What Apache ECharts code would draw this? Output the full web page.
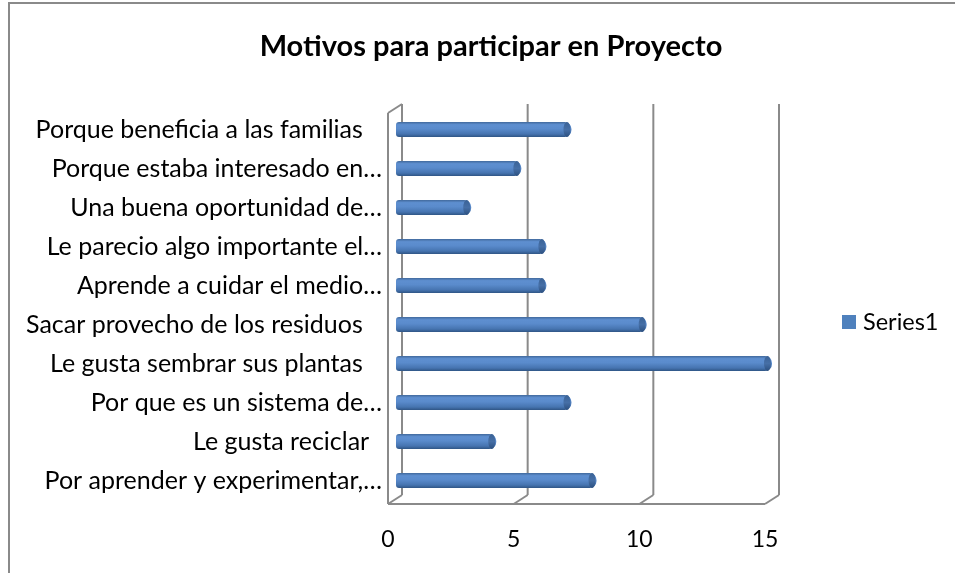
<!DOCTYPE html>
<html>
<head>
<meta charset="utf-8">
<script src="https://cdn.jsdelivr.net/npm/echarts@6/dist/echarts.min.js"></script>
<style>
html, body { margin: 0; padding: 0; background: #fff; }
#chart { width: 955px; height: 573px; }
</style>
</head>
<body>
<div id="chart"></div>
<script>
// motivos, de arriba hacia abajo
var motivos = [
    'Porque beneficia a las familias   ',
    'Porque estaba interesado en…',
    'Una buena oportunidad de…',
    'Le parecio algo importante el…',
    'Aprende a cuidar el medio…',
    'Sacar provecho de los residuos   ',
    'Le gusta sembrar sus plantas   ',
    'Por que es un sistema de…',
    'Le gusta reciclar  ',
    'Por aprender y experimentar,…'
];
var series1 = [7, 5, 3, 6, 6, 10, 15, 7, 4, 8];
var ejeTicks = [0, 5, 10, 15];

var FONT = 'Lato, "Liberation Sans", sans-serif';
var GRIS = '#8a8a8a';
// profundidad del marco 3D (fondo respecto al frente)
var DX = 14, DY = -9;

var chart = echarts.init(document.getElementById('chart'));

function linea(x1, y1, x2, y2) {
    return {
        type: 'line',
        shape: { x1: x1, y1: y1, x2: x2, y2: y2 },
        style: { stroke: GRIS, lineWidth: 2 }
    };
}

// paredes y suelo del grafico 3D
function marco(params, api) {
    var v = api.value(0);
    var bot = api.coord([v, 0]);
    var top = api.coord([v, 1]);
    var kids = [
        linea(bot[0] + DX, top[1] + DY, bot[0] + DX, bot[1] + DY),
        linea(bot[0] + DX, bot[1] + DY, bot[0], bot[1])
    ];
    if (params.dataIndex === 0) {
        var fin = api.coord([ejeTicks[ejeTicks.length - 1], 0]);
        kids.push(linea(bot[0], top[1], bot[0], bot[1]));
        kids.push(linea(bot[0], top[1], bot[0] + DX, top[1] + DY));
        kids.push(linea(bot[0], bot[1], fin[0], fin[1]));
    }
    return { type: 'group', children: kids };
}

var option = {
    backgroundColor: '#fff',
    animation: false,
    title: {
        text: 'Motivos para participar en Proyecto',
        left: 486,
        textAlign: 'center',
        top: 27,
        textStyle: { fontFamily: FONT, fontSize: 29, fontWeight: 'bold', color: '#000' }
    },
    legend: {
        left: 842,
        top: 310,
        padding: 0,
        itemWidth: 14,
        itemHeight: 14,
        icon: 'rect',
        data: [{ name: 'Series1', itemStyle: { color: '#4F81BD' } }],
        textStyle: { fontFamily: FONT, fontSize: 23.5, color: '#000', padding: [0, 0, 0, 2] }
    },
    graphic: [{
        type: 'rect',
        shape: { x: 9, y: 3, width: 1000, height: 1000 },
        style: { fill: 'none', stroke: GRIS, lineWidth: 2 },
        silent: true
    }],
    grid: [
        { left: 396, width: 376, top: 110, height: 390 },
        { left: 388, width: 377, top: 113, height: 391 }
    ],
    xAxis: [
        { gridIndex: 0, type: 'value', min: 0, max: 15, interval: 5, show: false },
        {
            gridIndex: 1, type: 'value', min: 0, max: 15, interval: 5,
            axisLine: { show: false }, axisTick: { show: false }, splitLine: { show: false },
            axisLabel: { margin: 24, fontFamily: FONT, fontSize: 23, color: '#000' }
        }
    ],
    yAxis: [
        {
            gridIndex: 0, type: 'category', inverse: true, data: motivos,
            axisLine: { show: false }, axisTick: { show: false }, splitLine: { show: false },
            axisLabel: { margin: 14, fontFamily: FONT, fontSize: 25, color: '#000' }
        },
        { gridIndex: 1, type: 'value', min: 0, max: 1, show: false }
    ],
    series: [
        {
            type: 'custom',
            xAxisIndex: 1,
            yAxisIndex: 1,
            silent: true,
            z: 1,
            data: ejeTicks.map(function (t) { return [t]; }),
            renderItem: marco
        },
        {
            name: 'Series1',
            type: 'bar',
            xAxisIndex: 0,
            yAxisIndex: 0,
            z: 5,
            barWidth: 15,
            barGap: '-100%',
            data: series1,
            itemStyle: {
                borderRadius: [3, 7, 7, 3],
                color: new echarts.graphic.LinearGradient(0, 0, 0, 1, [
                    { offset: 0, color: '#41699c' },
                    { offset: 0.18, color: '#5e8fd0' },
                    { offset: 0.45, color: '#5a8bcc' },
                    { offset: 0.8, color: '#4674b0' },
                    { offset: 1, color: '#2f5585' }
                ])
            }
        },
        {
            // tapa del cilindro
            name: 'tapa',
            type: 'pictorialBar',
            xAxisIndex: 0,
            yAxisIndex: 0,
            z: 6,
            silent: true,
            barWidth: 15,
            barGap: '-100%',
            symbol: 'circle',
            symbolSize: [7, 15],
            symbolPosition: 'end',
            symbolOffset: [-1, 0],
            data: series1,
            itemStyle: {
                color: new echarts.graphic.LinearGradient(0, 0, 0, 1, [
                    { offset: 0, color: '#3a6296' },
                    { offset: 0.5, color: '#466fa6' },
                    { offset: 1, color: '#2c5080' }
                ])
            }
        }
    ]
};

chart.setOption(option);
</script>
</body>
</html>
